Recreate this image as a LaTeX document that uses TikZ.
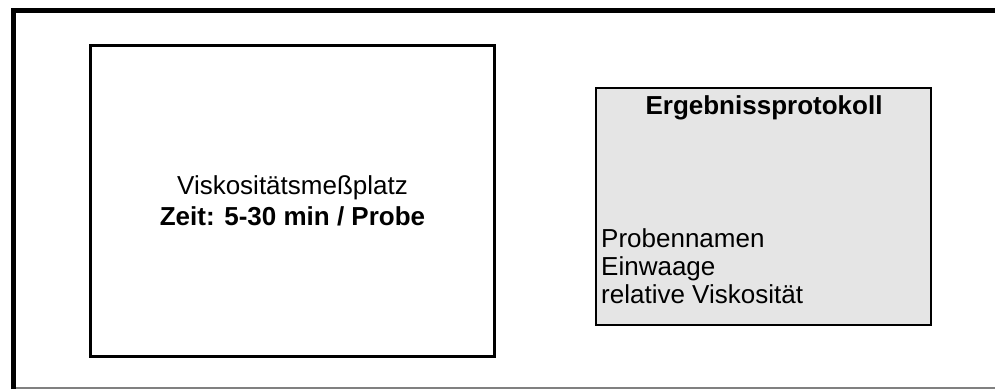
\documentclass[tikz,border=0pt]{standalone}
\usepackage{fontspec}
\setmainfont{Liberation Sans}
\usepackage{tikz}
\usetikzlibrary{positioning}
\definecolor{protgray}{gray}{0.9}

\begin{document}
\begin{tikzpicture}[x=1pt,y=-1pt,
    bigfont/.style={font=\fontsize{26}{31}\selectfont},
    listfont/.style={font=\fontsize{26}{28}\selectfont}]
    \useasboundingbox (0,0) rectangle (995,389);
    % outline
    \draw [line width=5pt] (13.5,389) -- (13.5,10.5) -- (995,10.5);
    \draw [gray, line width=1.5pt] (16,388) -- (995,388);
    % measuring station
    \node [draw, line width=3pt, minimum width=404pt, minimum height=311pt,
           align=center, bigfont] (station) at (292.5,201)
          {Viskositätsmeßplatz\\\textbf{Zeit: 5-30 min / Probe}};
    % protocol
    \node [draw, fill=protgray, line width=2.5pt, minimum width=335pt,
           minimum height=237pt] (protocol) at (763.5,206.5) {};
    \node [anchor=base, bigfont] (title) at (764,114) {\textbf{Ergebnissprotokoll}};
    \node [anchor=north west, inner sep=0pt, align=left, listfont] (items)
          at (601,228) {Probennamen\\Einwaage\\relative Viskosität};
\end{tikzpicture}
\end{document}
